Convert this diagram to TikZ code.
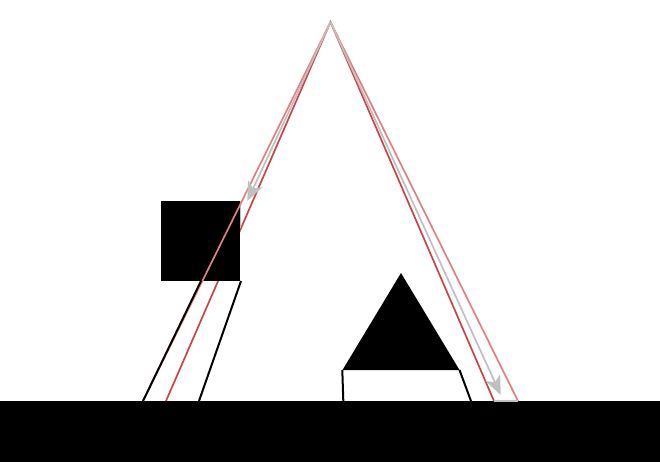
\documentclass[tikz,border=0pt]{standalone}
\usetikzlibrary{arrows.meta}
\definecolor{darkred}{RGB}{204,68,68}
\definecolor{lightred}{RGB}{226,128,128}
\definecolor{lgray}{RGB}{192,192,192}
\tikzset{
  innerline/.style={draw=darkred, line width=1.7pt},
  outerline/.style={draw=lightred, line width=1.7pt},
  grayarrow/.style={draw=lgray, line width=1.7pt, -{Stealth[length=19pt,width=16pt,inset=5pt]}},
  blackline/.style={draw=black, line width=2pt},
}
\begin{document}
\begin{tikzpicture}[x=1pt,y=-1pt]
\useasboundingbox (0,0) rectangle (660,462);
% coordinates
\coordinate (apex) at (330.5,22);
\coordinate (il) at (166,401);
\coordinate (ir) at (494,401);
\coordinate (ol) at (143,401);
\coordinate (or) at (518,401);
\coordinate (la) at (247.3,201);
\coordinate (ra) at (500.7,395);
% ground
\fill[black] (0,401) rectangle (660,462);
% inner red triangle sides
\draw[innerline] (il) -- (apex) -- (ir);
% square
\fill[black] (161,201) rectangle (240,281);
\draw[draw=lgray, line width=1.2pt] (240.5,201) -- (240.5,228);
% outer red triangle sides
\draw[outerline] (ol) -- (apex) -- (or);
% gray arrows
\draw[grayarrow] (apex) -- (la);
\draw[grayarrow] (apex) -- (ra);
% left legs
\draw[blackline] (201,281) -- (143,401);
\draw[blackline] (241,281) -- (199,401);
% small triangle and trapezoid
\fill[black] (401,273) -- (459.5,370) -- (342.5,370) -- cycle;
\draw[blackline] (342.3,370) -- (343.3,401);
\draw[blackline] (459.5,370) -- (471,401);
% gray base segment
\draw[draw=lgray, line width=1.7pt] (ir) -- (or);
\end{tikzpicture}
\end{document}
